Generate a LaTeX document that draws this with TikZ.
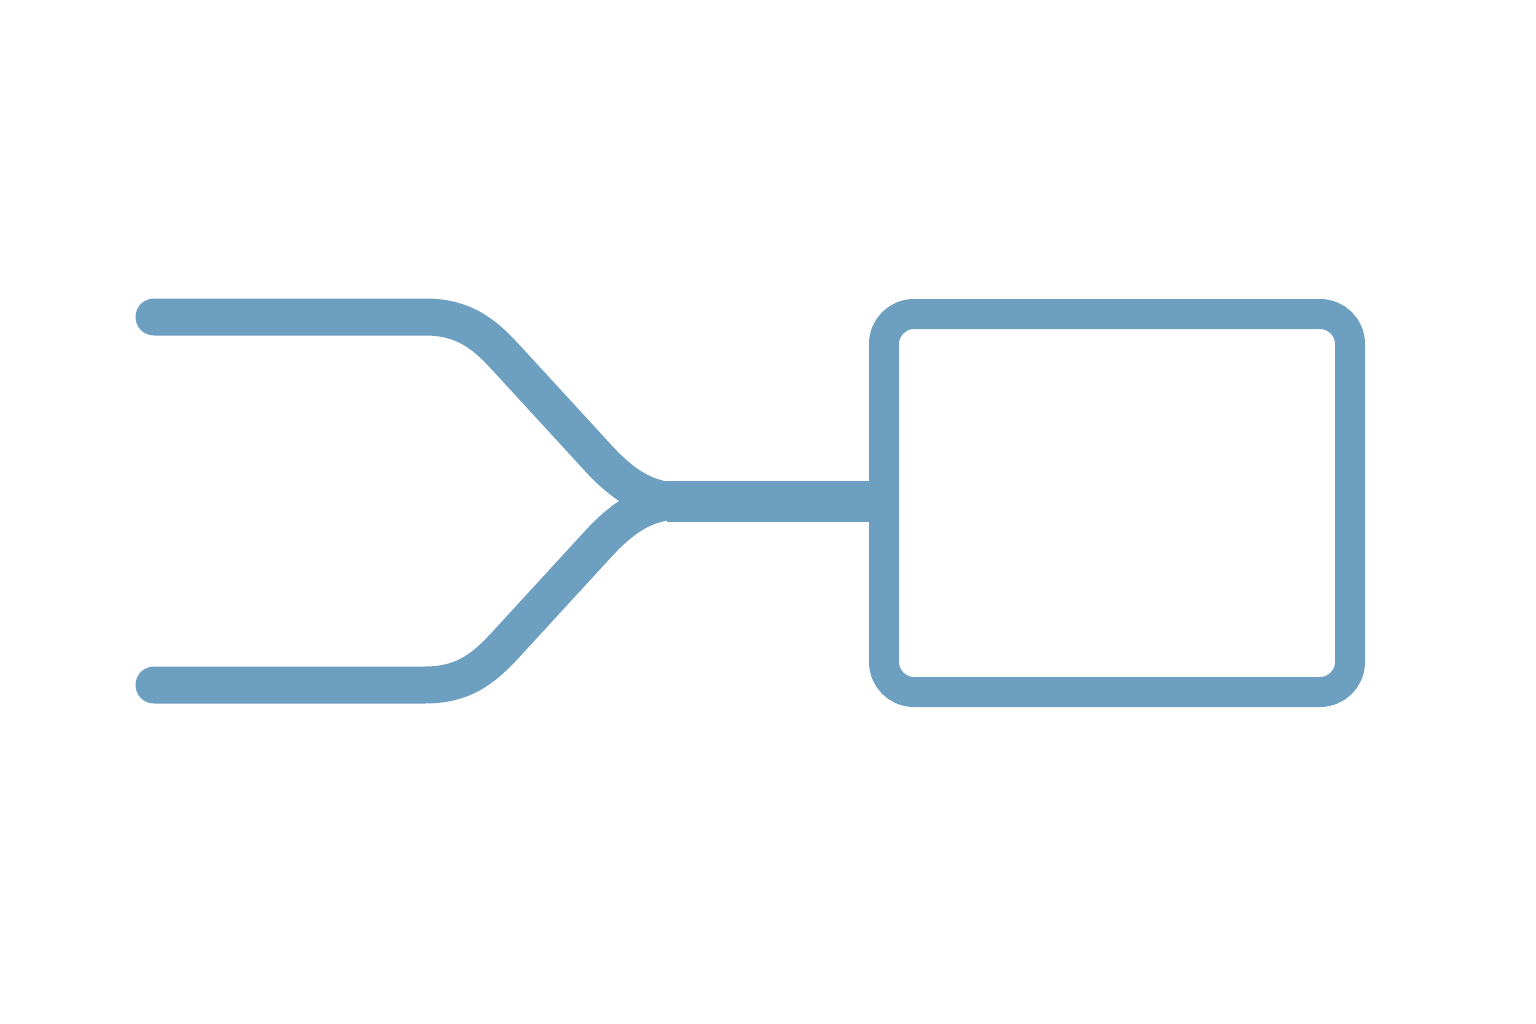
\documentclass[tikz,border=0pt]{standalone}
\usetikzlibrary{positioning}

\definecolor{pipeblue}{RGB}{108,159,192}
\tikzset{every picture/.style={line width=0.75pt}}
\tikzset{
	pipe/.style={draw=pipeblue, line width=27.75pt, line cap=round, line join=round},
	trunk/.style={draw=pipeblue, line width=30.75pt},
	tank/.style={draw=pipeblue, line width=22.5pt, rounded corners=22.5pt, fill=white,
		minimum width=349.5pt, minimum height=283.5pt, inner sep=0pt}}

\begin{document}
\begin{tikzpicture}[x=0.75pt,y=0.75pt,yscale=-1,xscale=1]
	\path[use as bounding box] (0,0) rectangle (1536,1024);

	% end points and junction
	\coordinate (inTop) at (154,317);
	\coordinate (inBot) at (154,685);
	\coordinate (junction) at (680,501);

	%Shape: Rounded Rectangle
	\node[tank] (box) at (1117,503) {};

	% upper branch
	\draw[pipe] (inTop) -- (425,317) .. controls (468,317) and (488,338) .. (510,362) -- (600,460) .. controls (628,490) and (652,501) .. (junction);
	% lower branch
	\draw[pipe] (inBot) -- (425,685) .. controls (468,685) and (488,664) .. (510,640) -- (600,542) .. controls (628,512) and (652,501) .. (junction);
	% trunk to box
	\draw[trunk] ([xshift=-10]junction) -- (junction -| box.west);
\end{tikzpicture}
\end{document}
